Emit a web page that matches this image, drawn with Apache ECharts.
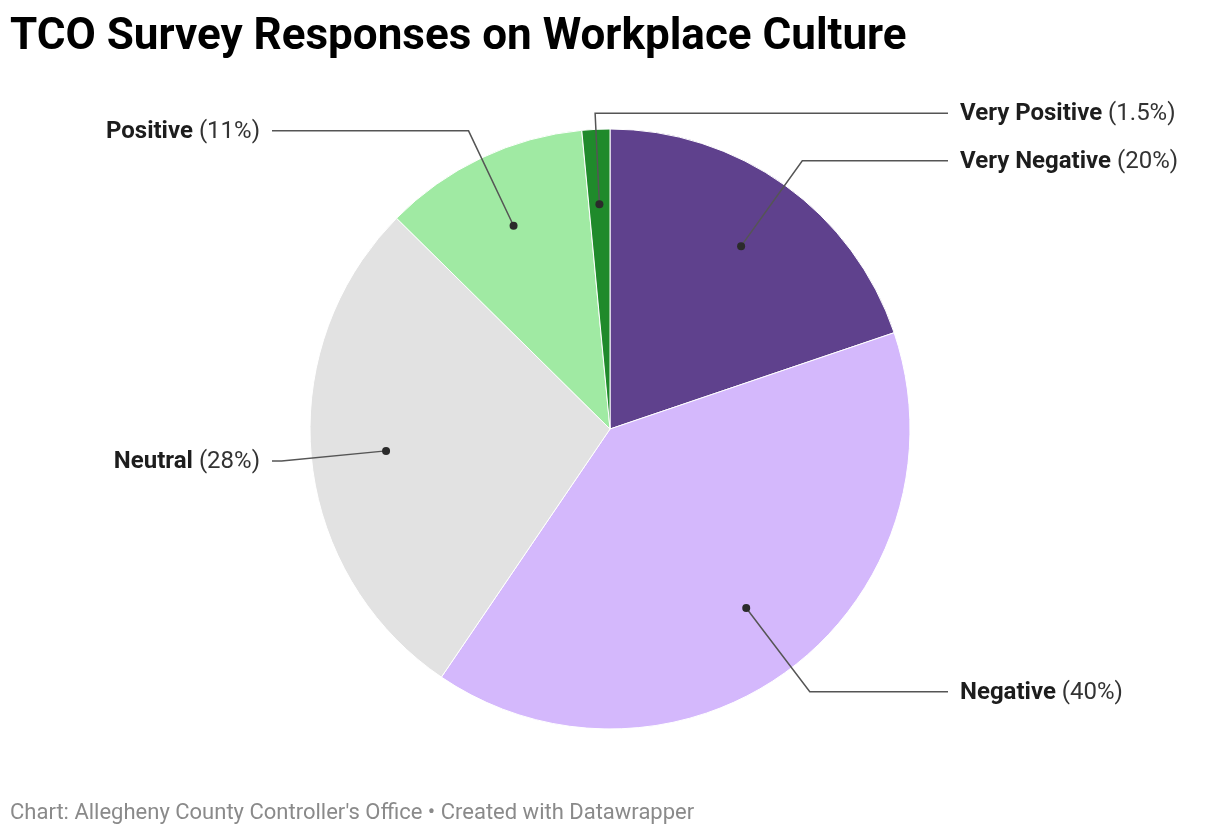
<!DOCTYPE html>
<html>
<head>
<meta charset="utf-8">
<script src="https://cdn.jsdelivr.net/npm/echarts@6/dist/echarts.min.js"></script>
<style>
  html, body { margin: 0; padding: 0; background: #fff; }
  #chart { width: 1220px; height: 836px; }
</style>
</head>
<body>
<div id="chart"></div>
<script>
// 数据
const categories = ['Very Negative', 'Negative', 'Neutral', 'Positive', 'Very Positive']
const values = [19.8, 39.7, 27.9, 11.1, 1.5]
const colors = ['#5f418d', '#d4b8fc', '#e2e2e2', '#a0eaa3', '#1f8a2b']

const font = 'Roboto, "Noto Sans", sans-serif'
const R = 300
const CY = 429
const DOT_R = 0.75 // 引线起点（占半径的比例）

const total = values.reduce((a, b) => a + b, 0)
// slice midpoints, in data units from 12 o'clock clockwise
const mids = []
let acc = 0
values.forEach(v => {
  mids.push(acc + v / 2)
  acc += v
})

const fmtPct = v => (v < 10 ? v.toFixed(1) : Math.round(v)) + '%'

let chart = echarts.init(document.getElementById('chart'))
const CX = chart.getWidth() / 2

// 引线几何：拐点和水平段终点
const leader = (mid, cx, cy, r) => {
  const a = (mid / total) * Math.PI * 2
  const s = Math.sin(a)
  const c = Math.cos(a)
  const right = s > -0.1
  const r1 = Math.abs(s) < 0.1 ? r + 16 : r + 30
  const bend = [cx + r1 * s, cy - r1 * c]
  const endX = right ? cx + r + 38 : cx - r - 38
  return { right, bend, end: [endX, bend[1]] }
}

let option = {
  animation: false,
  title: [
    {
      text: 'TCO Survey Responses on Workplace Culture',
      left: 10,
      top: 16,
      padding: 0,
      textStyle: { fontFamily: font, fontSize: 44, fontWeight: 'bold', color: '#000' },
    },
    {
      text: "Chart: Allegheny County Controller's Office • Created with Datawrapper",
      left: 10,
      top: 802,
      padding: 0,
      textStyle: { fontFamily: font, fontSize: 22, fontWeight: 'normal', color: '#8a8a8a' },
    },
  ],
  polar: {
    center: [CX, CY],
    radius: R,
  },
  angleAxis: {
    type: 'value',
    min: 0,
    max: total,
    startAngle: 90,
    clockwise: true,
    show: false,
  },
  radiusAxis: {
    type: 'value',
    min: 0,
    max: 1,
    show: false,
  },
  series: [
    {
      type: 'pie',
      center: [CX, CY],
      radius: R,
      startAngle: 90,
      clockwise: true,
      silent: true,
      data: categories.map((name, i) => ({
        name,
        value: values[i],
        itemStyle: { color: colors[i] },
      })),
      itemStyle: { borderColor: '#fff', borderWidth: 1 },
      label: {
        show: true,
        position: 'outside',
        fontFamily: font,
        fontSize: 24,
        formatter: p => `{b|${p.name}} {n|(${fmtPct(p.value)})}`,
        rich: {
          b: { fontFamily: font, fontSize: 24, fontWeight: 'bold', color: '#1d1d1d' },
          n: { fontFamily: font, fontSize: 24, fontWeight: 'normal', color: '#333' },
        },
      },
      labelLine: { show: false },
      labelLayout: params => {
        const l = leader(mids[params.dataIndex], CX, CY, R)
        return {
          x: l.right ? l.end[0] + 12 : l.end[0] - 12,
          y: l.bend[1] + 1,
          align: l.right ? 'left' : 'right',
          verticalAlign: 'middle',
        }
      },
    },
    // 引线 + 圆点
    {
      type: 'custom',
      coordinateSystem: 'polar',
      silent: true,
      z: 5,
      data: mids.map(m => [DOT_R, m]),
      renderItem: (params, api) => {
        const cs = params.coordSys
        const mid = api.value(1)
        const p0 = api.coord([api.value(0), mid])
        const l = leader(mid, cs.cx, cs.cy, cs.r)
        return {
          type: 'group',
          children: [
            {
              type: 'polyline',
              shape: { points: [p0, l.bend, l.end] },
              style: { stroke: '#555', lineWidth: 1.5, fill: null },
            },
            {
              type: 'circle',
              shape: { cx: p0[0], cy: p0[1], r: 4 },
              style: { fill: '#2b2b2b' },
            },
          ],
        }
      },
    },
  ],
}
chart.setOption(option)
</script>
</body>
</html>
